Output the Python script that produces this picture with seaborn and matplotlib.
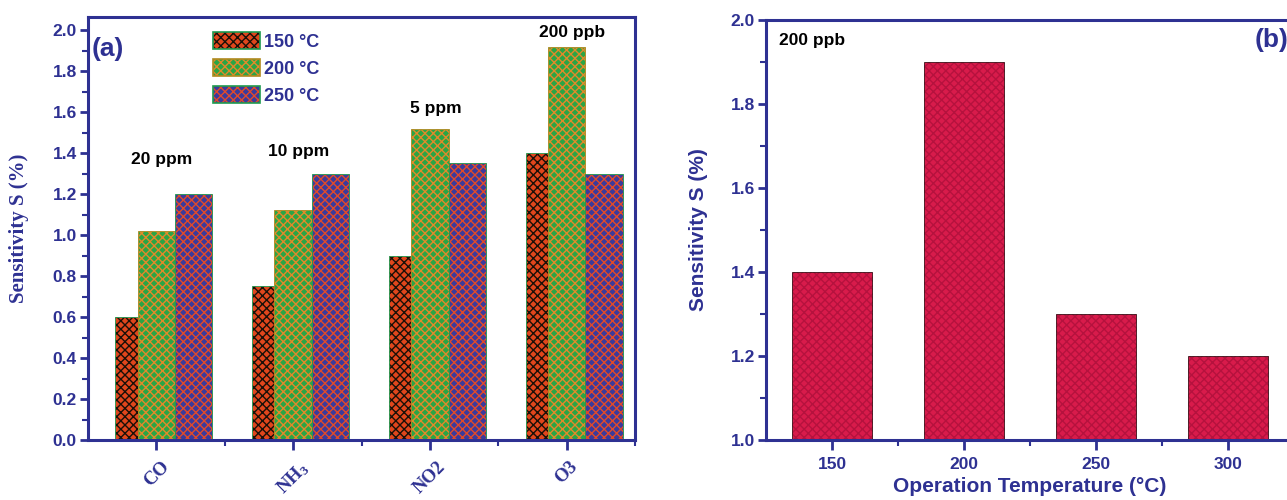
import matplotlib
matplotlib.use("Agg")
import matplotlib.pyplot as plt
import seaborn as sns
import pandas as pd
from matplotlib.patches import Patch
from matplotlib.colors import to_rgba
from matplotlib.ticker import MultipleLocator, FixedLocator

# ---------------- data ----------------
gases = ["CO", "NH$_3$", "NO2", "O3"]
temps_a = ["150 °C", "200 °C", "250 °C"]
s_150 = [0.60, 0.75, 0.90, 1.40]
s_200 = [1.02, 1.125, 1.52, 1.92]
s_250 = [1.20, 1.30, 1.35, 1.30]
conc_labels = ["20 ppm", "10 ppm", "5 ppm", "200 ppb"]
conc_y = [1.37, 1.41, 1.62, 1.99]

temps_b = ["150", "200", "250", "300"]
s_b = [1.40, 1.90, 1.30, 1.20]

# ---------------- style ----------------
sns.set_theme(style="white")
BLUE = "#2e3192"
plt.rcParams["font.family"] = ["Liberation Sans", "DejaVu Sans"]
plt.rcParams["font.weight"] = "bold"
plt.rcParams["mathtext.fontset"] = "custom"
plt.rcParams["mathtext.rm"] = "Liberation Serif:bold"
plt.rcParams["mathtext.it"] = "Liberation Serif:bold"
plt.rcParams["mathtext.bf"] = "Liberation Serif:bold"
plt.rcParams["mathtext.default"] = "rm"
plt.rcParams["hatch.linewidth"] = 1.0

styles = {
    "150 °C": dict(face="#e0461c", hatch="#1a1008", edge="#1f9a50"),
    "200 °C": dict(face="#2aa545", hatch="#e08a2a", edge="#b08a20"),
    "250 °C": dict(face="#3b3a9c", hatch="#e04a2a", edge="#1f9a50"),
}


def set_hatch(p, color):
    try:
        p.set_hatchcolor(color)
    except AttributeError:
        p._hatch_color = to_rgba(color)


fig = plt.figure(figsize=(12.87, 5.0), dpi=100)
ax1 = fig.add_axes([88 / 1287, 0.12, (635 - 88) / 1287, 0.846])
ax2 = fig.add_axes([766 / 1287, 0.12, (1294 - 766) / 1287, 0.84])

# ---------------- panel (a) ----------------
df = pd.DataFrame({
    "gas": gases * 3,
    "temp": [temps_a[0]] * 4 + [temps_a[1]] * 4 + [temps_a[2]] * 4,
    "S": s_150 + s_200 + s_250,
})
sns.barplot(data=df, x="gas", y="S", hue="temp", order=gases, hue_order=temps_a,
            width=0.82, ax=ax1, legend=False, errorbar=None, saturation=1)

for level, cont in zip(temps_a, ax1.containers):
    st = styles[level]
    for p in cont:
        p.set_facecolor(st["face"])
        p.set_edgecolor(st["edge"])
        p.set_linewidth(0.6)
        p.set_hatch("xxxx")
        set_hatch(p, st["hatch"])
        if level == "150 °C":
            w = p.get_width()
            p.set_x(p.get_x() + 0.4 * w)
            p.set_width(0.6 * w)

ax1.set_xlim(-0.5, 3.5)
ax1.set_ylim(0, 2.065)
ax1.yaxis.set_major_locator(MultipleLocator(0.2))
ax1.yaxis.set_minor_locator(MultipleLocator(0.1))
ax1.xaxis.set_minor_locator(FixedLocator([0.5, 1.5, 2.5, 3.5]))
ax1.set_xlabel("")
ax1.set_ylabel("Sensitivity S (%)", family="Liberation Serif", fontweight="bold",
               fontsize=15, color=BLUE, labelpad=17)
for lbl in ax1.get_yticklabels():
    lbl.set_fontweight("bold")
ax1.tick_params(axis="y", which="major", direction="out", length=6, width=2,
                colors=BLUE, labelsize=12.5, left=True, pad=2)
ax1.tick_params(axis="y", which="minor", direction="out", length=4, width=1.5,
                colors=BLUE, left=True)
ax1.tick_params(axis="x", which="major", direction="out", length=7, width=2,
                colors=BLUE, bottom=True, pad=6)
ax1.tick_params(axis="x", which="minor", direction="out", length=4, width=1.5,
                colors=BLUE, bottom=True)
ax1.set_xticks(range(len(gases)))
ax1.set_xticklabels(gases, rotation=45, family="Liberation Serif", fontweight="bold",
                    fontsize=13.5, color=BLUE, ha="center", va="top")

for i, (t, y) in enumerate(zip(conc_labels, conc_y)):
    ax1.text(i + 0.04, y, t, ha="center", va="center", fontsize=12.5,
             fontweight="bold", color="black")

ax1.text(-0.47, 1.91, "(a)", fontsize=19, fontweight="bold", color=BLUE,
         ha="left", va="center")

handles = [Patch(facecolor=styles[l]["face"], edgecolor=styles[l]["edge"],
                 hatch="xxxx", linewidth=1.2, label=l) for l in temps_a]
leg = ax1.legend(handles=handles, loc="upper left", bbox_to_anchor=(0.195, 1.007),
                 frameon=False, prop=dict(family="Liberation Sans", weight="bold", size=13),
                 handlelength=2.6, handleheight=1.1, labelspacing=0.45,
                 handletextpad=0.25, labelcolor=BLUE, borderaxespad=0.6)
for h, l in zip(leg.get_patches(), temps_a):
    set_hatch(h, styles[l]["hatch"])

for sp in ax1.spines.values():
    sp.set_visible(True)
    sp.set_color(BLUE)
    sp.set_linewidth(2.2)

# ---------------- panel (b) ----------------
dfb = pd.DataFrame({"T": temps_b, "S": s_b})
sns.barplot(data=dfb, x="T", y="S", order=temps_b, color="#d81b4b", width=0.6,
            ax=ax2, errorbar=None, saturation=1)
for p in ax2.patches:
    p.set_facecolor("#d81b4b")
    p.set_edgecolor("#3a1018")
    p.set_linewidth(0.6)
    p.set_hatch("xxxx")
    set_hatch(p, "#b5123e")

ax2.set_xlim(-0.5, 3.5)
ax2.set_ylim(1.0, 2.0)
ax2.yaxis.set_major_locator(MultipleLocator(0.2))
ax2.yaxis.set_minor_locator(MultipleLocator(0.1))
ax2.xaxis.set_minor_locator(FixedLocator([0.5, 1.5, 2.5]))
ax2.set_xlabel("Operation Temperature (°C)", fontsize=15, fontweight="bold",
               color=BLUE, labelpad=4)
ax2.set_ylabel("Sensitivity S (%)", fontsize=15, fontweight="bold", color=BLUE,
               labelpad=16)
ax2.tick_params(axis="y", which="major", direction="out", length=6, width=2,
                colors=BLUE, labelsize=12.5, left=True, pad=2)
ax2.tick_params(axis="y", which="minor", direction="out", length=4, width=1.5,
                colors=BLUE, left=True)
ax2.tick_params(axis="x", which="major", direction="out", length=7, width=2,
                colors=BLUE, bottom=True, labelsize=12.5, pad=5)
ax2.tick_params(axis="x", which="minor", direction="out", length=4, width=1.5,
                colors=BLUE, bottom=True)
for lbl in ax2.get_xticklabels() + ax2.get_yticklabels():
    lbl.set_fontweight("bold")

ax2.text(-0.40, 1.952, "200 ppb", fontsize=12.5, fontweight="bold", color="black",
         ha="left", va="center")
ax2.text(3.46, 1.952, "(b)", fontsize=19, fontweight="bold", color=BLUE,
         ha="right", va="center")

for sp in ax2.spines.values():
    sp.set_visible(True)
    sp.set_color(BLUE)
    sp.set_linewidth(2.2)

fig.savefig("out.png", dpi=100)
